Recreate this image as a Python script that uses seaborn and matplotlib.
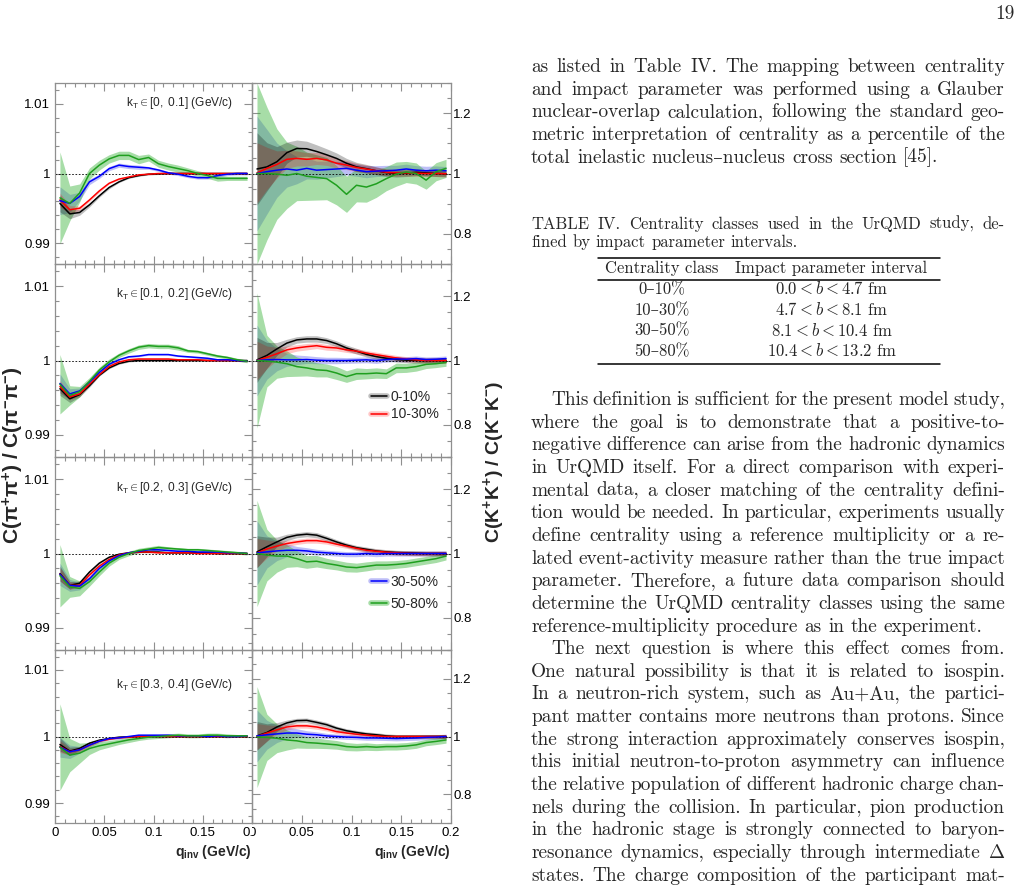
import matplotlib
matplotlib.use("Agg")
import pandas as pd
import matplotlib.pyplot as plt
import seaborn as sns
from matplotlib.lines import Line2D
from matplotlib.ticker import FixedLocator, MultipleLocator
from matplotlib.transforms import Bbox, TransformedBbox

# q_inv bin centres (GeV/c)
q_inv = [0.005, 0.015, 0.025, 0.035, 0.045, 0.055, 0.065, 0.075, 0.085, 0.095,
         0.105, 0.115, 0.125, 0.135, 0.145, 0.155, 0.165, 0.175, 0.185, 0.195]

centralities = ["0-10%", "10-30%", "30-50%", "50-80%"]
kt_bins = [r"[0,\ 0.1]", r"[0.1,\ 0.2]", r"[0.2,\ 0.3]", r"[0.3,\ 0.4]"]

# C(pi+pi+)/C(pi-pi-)
pi_kt1_c0010 = [0.9957, 0.9942, 0.9944, 0.9955, 0.9968, 0.9980, 0.9988, 0.9994, 0.9997, 0.9999,
                0.99995, 1.0000, 1.0000, 1.0000, 1.0000, 1.0000, 1.0000, 1.0000, 1.0000, 1.0000]
pi_kt1_c1030 = [0.9962, 0.9948, 0.9950, 0.9962, 0.9975, 0.9986, 0.9992, 0.9995, 0.9998, 0.9999,
                1.0000, 1.0000, 1.0000, 1.0000, 1.0000, 1.0000, 1.0000, 1.0000, 1.0000, 1.0000]
pi_kt1_c3050 = [0.9961, 0.9957, 0.9967, 0.9988, 0.9996, 1.0007, 1.0012, 1.0010, 1.0009, 1.0008,
                1.0005, 1.0001, 0.9999, 0.9996, 0.9994, 0.9994, 0.9997, 0.9999, 1.0000, 1.0000]
pi_kt1_c5080 = [0.9965, 0.9957, 0.9972, 1.0000, 1.0012, 1.0021, 1.0026, 1.0026, 1.0020, 1.0023,
                1.0014, 1.0010, 1.0007, 1.0004, 1.0000, 0.9997, 0.9993, 0.9993, 0.9993, 0.9993]

pi_kt2_c0010 = [0.9962, 0.99485, 0.9954, 0.9966, 0.9980, 0.9990, 0.9996, 0.9999, 1.0000, 1.0000,
                1.0000, 1.0000, 1.0000, 1.0000, 1.0000, 1.0000, 1.0000, 1.0000, 1.0000, 1.0000]
pi_kt2_c1030 = [0.9965, 0.9951, 0.9955, 0.9968, 0.9981, 0.9992, 0.9998, 1.0001, 1.0002, 1.0002,
                1.0002, 1.0002, 1.0001, 1.0001, 1.0001, 1.0000, 1.0000, 1.0000, 1.0000, 0.9999]
pi_kt2_c3050 = [0.9969, 0.9955, 0.9959, 0.9971, 0.9984, 0.9995, 1.0001, 1.0005, 1.0006, 1.0008,
                1.0008, 1.0008, 1.0006, 1.0005, 1.0004, 1.0003, 1.0001, 1.0001, 1.0000, 0.9999]
pi_kt2_c5080 = [0.9968, 0.9953, 0.9958, 0.9972, 0.9987, 0.9998, 1.0007, 1.0013, 1.0018, 1.0020,
                1.0019, 1.0019, 1.0017, 1.0013, 1.0012, 1.0009, 1.0006, 1.0004, 1.0001, 0.9999]

pi_kt3_c0010 = [0.9973, 0.9957, 0.9960, 0.9975, 0.9987, 0.9995, 0.9999, 1.0001, 1.0002, 1.0002,
                1.0002, 1.0001, 1.0001, 1.0001, 1.0001, 1.0001, 1.0000, 1.0000, 1.0000, 1.0000]
pi_kt3_c1030 = [0.9972, 0.9957, 0.9957, 0.9971, 0.9983, 0.9992, 0.9998, 1.0001, 1.0002, 1.0002,
                1.0001, 1.0001, 1.0001, 1.0001, 1.0000, 1.0000, 1.0000, 1.0000, 1.0000, 1.0000]
pi_kt3_c3050 = [0.9972, 0.9957, 0.9956, 0.9966, 0.9980, 0.9990, 0.9997, 1.0001, 1.0003, 1.0005,
                1.0005, 1.0004, 1.0003, 1.0003, 1.0002, 1.0002, 1.0002, 1.0001, 1.0001, 1.0000]
pi_kt3_c5080 = [0.9970, 0.9955, 0.9953, 0.9962, 0.9975, 0.9987, 0.9995, 1.0000, 1.0004, 1.0006,
                1.0008, 1.0007, 1.0006, 1.0005, 1.0005, 1.0004, 1.0003, 1.0002, 1.0001, 1.0000]

pi_kt4_c0010 = [0.9988, 0.9978, 0.9982, 0.9990, 0.99945, 0.9997, 0.9999, 0.99995, 1.0000, 1.0000,
                1.0000, 1.0000, 1.0000, 1.0000, 1.0000, 1.0000, 1.0000, 1.0000, 1.0000, 1.0000]
pi_kt4_c1030 = [0.9985, 0.9977, 0.9980, 0.9987, 0.9993, 0.9996, 0.9998, 0.9999, 1.0000, 1.0000,
                1.0000, 1.0000, 1.0000, 1.0000, 1.0000, 1.0000, 1.0000, 1.0000, 1.0000, 1.0000]
pi_kt4_c3050 = [0.9984, 0.9977, 0.9980, 0.9987, 0.9993, 0.9997, 0.9998, 1.0000, 1.0002, 1.0002,
                1.0002, 1.0002, 1.0001, 1.0001, 1.0001, 1.0000, 1.0001, 1.0000, 1.0000, 1.0001]
pi_kt4_c5080 = [0.9984, 0.9972, 0.9975, 0.9982, 0.9986, 0.9989, 0.9992, 0.9995, 0.9997, 0.9999,
                1.0000, 1.0001, 1.0002, 1.0001, 1.0001, 1.0002, 1.0002, 1.0001, 1.0001, 1.0001]

# half widths of the pion bands
pi_kt1_e0010 = [0.0012, 0.0007, 0.0004, 0.0003, 0.0002, 0.0002, 0.0001, 0.0001, 0.0001, 0.0001,
                0.0001, 0.0001, 0.0001, 0.0001, 0.0001, 0.0001, 0.0001, 0.0001, 0.0001, 0.0001]
pi_kt1_e1030 = [0.0010, 0.0006, 0.0003, 0.0002, 0.0002, 0.0001, 0.0001, 0.0001, 0.0001, 0.0001,
                0.0001, 0.0001, 0.0001, 0.0001, 0.0001, 0.0001, 0.0001, 0.0001, 0.0001, 0.0001]
pi_kt1_e3050 = [0.0020, 0.0013, 0.0006, 0.0004, 0.0003, 0.0003, 0.0003, 0.0003, 0.0003, 0.0002,
                0.0002, 0.0002, 0.0002, 0.0002, 0.0002, 0.0002, 0.0002, 0.0002, 0.0002, 0.0002]
pi_kt1_e5080 = [0.0066, 0.0025, 0.0013, 0.0008, 0.0007, 0.0006, 0.0006, 0.0006, 0.0006, 0.0005,
                0.0005, 0.0005, 0.0005, 0.0004, 0.0004, 0.0004, 0.0004, 0.0003, 0.0003, 0.0003]

pi_kt2_e0010 = [0.0009, 0.0005, 0.0003, 0.0002, 0.0001, 0.0001, 0.0001, 0.0001, 0.0001, 0.0001,
                0.0001, 0.0001, 0.0001, 0.0001, 0.0001, 0.0001, 0.0001, 0.0001, 0.0001, 0.0001]
pi_kt2_e1030 = [0.0008, 0.0004, 0.0003, 0.0002, 0.0001, 0.0001, 0.0001, 0.0001, 0.0001, 0.0001,
                0.0001, 0.0001, 0.0001, 0.0001, 0.0001, 0.0001, 0.0001, 0.0001, 0.0001, 0.0001]
pi_kt2_e3050 = [0.0013, 0.0007, 0.0004, 0.0003, 0.0002, 0.0002, 0.0001, 0.0001, 0.0001, 0.0001,
                0.0001, 0.0001, 0.0001, 0.0001, 0.0001, 0.0001, 0.0001, 0.0001, 0.0001, 0.0001]
pi_kt2_e5080 = [0.0040, 0.0013, 0.0007, 0.0005, 0.0004, 0.0004, 0.0003, 0.0003, 0.0003, 0.0003,
                0.0003, 0.0003, 0.0003, 0.0002, 0.0002, 0.0002, 0.0002, 0.0002, 0.0002, 0.0002]

pi_kt3_e0010 = [0.0010, 0.0005, 0.0003, 0.0002, 0.0001, 0.0001, 0.0001, 0.0001, 0.0001, 0.0001,
                0.0001, 0.0001, 0.0001, 0.0001, 0.0001, 0.0001, 0.0001, 0.0001, 0.0001, 0.0001]
pi_kt3_e1030 = [0.0009, 0.0005, 0.0003, 0.0002, 0.0001, 0.0001, 0.0001, 0.0001, 0.0001, 0.0001,
                0.0001, 0.0001, 0.0001, 0.0001, 0.0001, 0.0001, 0.0001, 0.0001, 0.0001, 0.0001]
pi_kt3_e3050 = [0.0015, 0.0008, 0.0005, 0.0003, 0.0002, 0.0002, 0.0002, 0.0001, 0.0001, 0.0001,
                0.0001, 0.0001, 0.0001, 0.0001, 0.0001, 0.0001, 0.0001, 0.0001, 0.0001, 0.0001]
pi_kt3_e5080 = [0.0042, 0.0014, 0.0010, 0.0006, 0.0005, 0.0004, 0.0003, 0.0003, 0.0003, 0.0003,
                0.0003, 0.0002, 0.0002, 0.0002, 0.0002, 0.0002, 0.0002, 0.0002, 0.0002, 0.0002]

pi_kt4_e0010 = [0.0010, 0.0006, 0.0003, 0.0002, 0.0001, 0.0001, 0.0001, 0.0001, 0.0001, 0.0001,
                0.0001, 0.0001, 0.0001, 0.0001, 0.0001, 0.0001, 0.0001, 0.0001, 0.0001, 0.0001]
pi_kt4_e1030 = [0.0009, 0.0005, 0.0003, 0.0002, 0.0001, 0.0001, 0.0001, 0.0001, 0.0001, 0.0001,
                0.0001, 0.0001, 0.0001, 0.0001, 0.0001, 0.0001, 0.0001, 0.0001, 0.0001, 0.0001]
pi_kt4_e3050 = [0.0015, 0.0010, 0.0005, 0.0003, 0.0002, 0.0002, 0.0002, 0.0001, 0.0001, 0.0001,
                0.0001, 0.0001, 0.0001, 0.0001, 0.0001, 0.0001, 0.0001, 0.0001, 0.0001, 0.0001]
pi_kt4_e5080 = [0.0065, 0.0025, 0.0015, 0.0009, 0.0006, 0.0005, 0.0004, 0.0004, 0.0003, 0.0003,
                0.0003, 0.0003, 0.0003, 0.0003, 0.0003, 0.0003, 0.0003, 0.0003, 0.0002, 0.0002]

# C(K+K+)/C(K-K-)
k_kt1_c0010 = [1.015, 1.022, 1.039, 1.069, 1.083, 1.082, 1.073, 1.062, 1.050, 1.034,
               1.022, 1.016, 1.009, 1.003, 1.000, 1.001, 1.004, 1.002, 1.000, 0.999]
k_kt1_c1030 = [1.002, 1.017, 1.030, 1.047, 1.050, 1.047, 1.050, 1.045, 1.034, 1.028,
               1.020, 1.015, 1.009, 1.004, 1.002, 1.002, 1.001, 1.000, 1.000, 0.999]
k_kt1_c3050 = [1.000, 1.006, 1.011, 1.015, 1.011, 1.017, 1.011, 1.013, 1.015, 1.017,
               1.011, 1.006, 1.008, 1.009, 1.011, 1.015, 1.011, 1.009, 1.011, 1.009]
k_kt1_c5080 = [1.000, 1.000, 0.998, 0.994, 1.000, 0.991, 0.987, 0.983, 0.961, 0.931,
               0.961, 0.955, 0.966, 0.983, 0.998, 1.005, 1.000, 0.978, 1.006, 1.017]

k_kt2_c0010 = [1.002, 1.016, 1.036, 1.054, 1.064, 1.067, 1.067, 1.062, 1.052, 1.039,
               1.029, 1.019, 1.012, 1.007, 1.003, 1.001, 1.000, 1.000, 1.000, 1.000]
k_kt2_c1030 = [1.000, 1.010, 1.021, 1.033, 1.039, 1.043, 1.046, 1.041, 1.039, 1.033,
               1.029, 1.023, 1.018, 1.013, 1.008, 1.004, 1.002, 1.000, 1.000, 1.000]
k_kt2_c3050 = [1.000, 1.002, 1.003, 1.002, 1.002, 1.003, 1.001, 1.000, 1.000, 1.000,
               1.001, 1.002, 1.000, 1.003, 1.005, 1.004, 1.006, 1.003, 1.004, 1.006]
k_kt2_c5080 = [1.000, 0.998, 0.995, 0.990, 0.981, 0.977, 0.971, 0.969, 0.961, 0.950,
               0.959, 0.959, 0.961, 0.959, 0.977, 0.977, 0.981, 0.988, 0.990, 0.994]

k_kt3_c0010 = [1.005, 1.021, 1.036, 1.050, 1.057, 1.060, 1.057, 1.047, 1.036, 1.026,
               1.018, 1.013, 1.008, 1.005, 1.003, 1.002, 1.001, 1.000, 1.000, 1.000]
k_kt3_c1030 = [1.002, 1.014, 1.023, 1.031, 1.036, 1.040, 1.040, 1.036, 1.029, 1.023,
               1.016, 1.010, 1.007, 1.004, 1.002, 1.001, 1.000, 1.000, 1.000, 1.000]
k_kt3_c3050 = [1.002, 1.005, 1.008, 1.010, 1.010, 1.008, 1.004, 1.002, 1.000, 0.998,
               0.998, 1.000, 0.998, 1.000, 1.000, 1.000, 1.000, 1.000, 1.000, 1.000]
k_kt3_c5080 = [1.000, 0.995, 0.992, 0.992, 0.984, 0.974, 0.976, 0.969, 0.964, 0.958,
               0.956, 0.960, 0.964, 0.964, 0.966, 0.969, 0.974, 0.979, 0.984, 0.992]

k_kt4_c0010 = [1.002, 1.014, 1.033, 1.047, 1.055, 1.056, 1.049, 1.041, 1.029, 1.020,
               1.014, 1.009, 1.006, 1.002, 1.000, 1.000, 1.000, 1.000, 1.000, 1.000]
k_kt4_c1030 = [1.000, 1.012, 1.023, 1.033, 1.037, 1.037, 1.033, 1.026, 1.017, 1.012,
               1.008, 1.005, 1.002, 1.000, 1.000, 1.000, 1.000, 1.000, 1.000, 1.000]
k_kt4_c3050 = [1.002, 1.006, 1.009, 1.012, 1.012, 1.008, 1.006, 1.002, 1.000, 0.998,
               0.997, 0.995, 0.995, 0.994, 0.993, 0.994, 0.995, 0.997, 0.998, 1.000]
k_kt4_c5080 = [0.998, 0.997, 0.994, 0.988, 0.985, 0.979, 0.977, 0.974, 0.971, 0.965,
               0.963, 0.965, 0.963, 0.965, 0.965, 0.967, 0.971, 0.979, 0.983, 0.988]

# half widths of the kaon bands
k_kt1_e0010 = [0.120, 0.080, 0.050, 0.035, 0.028, 0.025, 0.022, 0.020, 0.018, 0.016,
               0.015, 0.014, 0.013, 0.012, 0.012, 0.011, 0.011, 0.010, 0.010, 0.010]
k_kt1_e1030 = [0.100, 0.070, 0.045, 0.030, 0.025, 0.022, 0.020, 0.018, 0.016, 0.015,
               0.014, 0.013, 0.012, 0.011, 0.011, 0.010, 0.010, 0.010, 0.010, 0.010]
k_kt1_e3050 = [0.190, 0.140, 0.090, 0.060, 0.045, 0.035, 0.030, 0.028, 0.025, 0.022,
               0.020, 0.020, 0.018, 0.018, 0.016, 0.016, 0.015, 0.015, 0.014, 0.014]
k_kt1_e5080 = [0.300, 0.220, 0.150, 0.110, 0.090, 0.080, 0.075, 0.070, 0.065, 0.060,
               0.055, 0.050, 0.045, 0.040, 0.040, 0.035, 0.035, 0.030, 0.030, 0.030]

k_kt2_e0010 = [0.070, 0.040, 0.020, 0.012, 0.010, 0.010, 0.010, 0.009, 0.009, 0.009,
               0.009, 0.008, 0.008, 0.008, 0.008, 0.008, 0.008, 0.008, 0.008, 0.008]
k_kt2_e1030 = [0.060, 0.035, 0.020, 0.012, 0.010, 0.010, 0.009, 0.009, 0.009, 0.008,
               0.008, 0.008, 0.008, 0.008, 0.008, 0.008, 0.008, 0.008, 0.008, 0.008]
k_kt2_e3050 = [0.110, 0.060, 0.035, 0.020, 0.015, 0.012, 0.011, 0.010, 0.010, 0.009,
               0.009, 0.009, 0.009, 0.008, 0.008, 0.008, 0.008, 0.008, 0.008, 0.008]
k_kt2_e5080 = [0.210, 0.080, 0.050, 0.040, 0.030, 0.025, 0.022, 0.020, 0.020, 0.018,
               0.018, 0.016, 0.016, 0.015, 0.015, 0.014, 0.014, 0.013, 0.012, 0.012]

k_kt3_e0010 = [0.050, 0.030, 0.015, 0.010, 0.008, 0.008, 0.008, 0.008, 0.007, 0.007,
               0.007, 0.007, 0.007, 0.007, 0.007, 0.007, 0.007, 0.007, 0.007, 0.007]
k_kt3_e1030 = [0.045, 0.028, 0.015, 0.010, 0.008, 0.008, 0.008, 0.007, 0.007, 0.007,
               0.007, 0.007, 0.007, 0.007, 0.007, 0.007, 0.007, 0.007, 0.007, 0.007]
k_kt3_e3050 = [0.100, 0.050, 0.030, 0.020, 0.012, 0.010, 0.009, 0.008, 0.008, 0.008,
               0.008, 0.008, 0.008, 0.008, 0.008, 0.008, 0.008, 0.008, 0.008, 0.008]
k_kt3_e5080 = [0.165, 0.080, 0.050, 0.035, 0.025, 0.020, 0.018, 0.016, 0.015, 0.015,
               0.014, 0.014, 0.013, 0.013, 0.012, 0.012, 0.012, 0.012, 0.012, 0.012]

k_kt4_e0010 = [0.050, 0.030, 0.015, 0.010, 0.008, 0.008, 0.008, 0.008, 0.007, 0.007,
               0.007, 0.007, 0.007, 0.007, 0.007, 0.007, 0.007, 0.007, 0.007, 0.007]
k_kt4_e1030 = [0.045, 0.028, 0.015, 0.010, 0.008, 0.008, 0.008, 0.007, 0.007, 0.007,
               0.007, 0.007, 0.007, 0.007, 0.007, 0.007, 0.007, 0.007, 0.007, 0.007]
k_kt4_e3050 = [0.090, 0.050, 0.030, 0.020, 0.015, 0.012, 0.010, 0.009, 0.008, 0.008,
               0.008, 0.008, 0.008, 0.008, 0.008, 0.008, 0.008, 0.008, 0.008, 0.008]
k_kt4_e5080 = [0.175, 0.080, 0.050, 0.035, 0.025, 0.020, 0.018, 0.016, 0.015, 0.014,
               0.013, 0.013, 0.012, 0.012, 0.012, 0.012, 0.012, 0.011, 0.011, 0.011]

pi_ratio = [[pi_kt1_c0010, pi_kt1_c1030, pi_kt1_c3050, pi_kt1_c5080],
            [pi_kt2_c0010, pi_kt2_c1030, pi_kt2_c3050, pi_kt2_c5080],
            [pi_kt3_c0010, pi_kt3_c1030, pi_kt3_c3050, pi_kt3_c5080],
            [pi_kt4_c0010, pi_kt4_c1030, pi_kt4_c3050, pi_kt4_c5080]]
pi_error = [[pi_kt1_e0010, pi_kt1_e1030, pi_kt1_e3050, pi_kt1_e5080],
            [pi_kt2_e0010, pi_kt2_e1030, pi_kt2_e3050, pi_kt2_e5080],
            [pi_kt3_e0010, pi_kt3_e1030, pi_kt3_e3050, pi_kt3_e5080],
            [pi_kt4_e0010, pi_kt4_e1030, pi_kt4_e3050, pi_kt4_e5080]]
k_ratio = [[k_kt1_c0010, k_kt1_c1030, k_kt1_c3050, k_kt1_c5080],
           [k_kt2_c0010, k_kt2_c1030, k_kt2_c3050, k_kt2_c5080],
           [k_kt3_c0010, k_kt3_c1030, k_kt3_c3050, k_kt3_c5080],
           [k_kt4_c0010, k_kt4_c1030, k_kt4_c3050, k_kt4_c5080]]
k_error = [[k_kt1_e0010, k_kt1_e1030, k_kt1_e3050, k_kt1_e5080],
           [k_kt2_e0010, k_kt2_e1030, k_kt2_e3050, k_kt2_e5080],
           [k_kt3_e0010, k_kt3_e1030, k_kt3_e3050, k_kt3_e5080],
           [k_kt4_e0010, k_kt4_e1030, k_kt4_e3050, k_kt4_e5080]]

# page text next to the figure
para1 = ["as listed in Table IV. The mapping between centrality",
         "and impact parameter was performed using a Glauber",
         "nuclear-overlap calculation, following the standard geo-",
         "metric interpretation of centrality as a percentile of the",
         "total inelastic nucleus\u2013nucleus cross section [45]."]
caption = ["TABLE IV. Centrality classes used in the UrQMD study, de-",
           "fined by impact parameter intervals."]
table_head = ["Centrality class", "Impact parameter interval"]
table_class = ["0\u201310%", "10\u201330%", "30\u201350%", "50\u201380%"]
table_b = [r"$0.0 < b < 4.7$ fm", r"$4.7 < b < 8.1$ fm",
           r"$8.1 < b < 10.4$ fm", r"$10.4 < b < 13.2$ fm"]
para2 = ["This definition is sufficient for the present model study,",
         "where the goal is to demonstrate that a positive-to-",
         "negative difference can arise from the hadronic dynamics",
         "in UrQMD itself. For a direct comparison with experi-",
         "mental data, a closer matching of the centrality defini-",
         "tion would be needed. In particular, experiments usually",
         "define centrality using a reference multiplicity or a re-",
         "lated event-activity measure rather than the true impact",
         "parameter. Therefore, a future data comparison should",
         "determine the UrQMD centrality classes using the same",
         "reference-multiplicity procedure as in the experiment."]
para3 = ["The next question is where this effect comes from.",
         "One natural possibility is that it is related to isospin.",
         "In a neutron-rich system, such as Au+Au, the partici-",
         "pant matter contains more neutrons than protons. Since",
         "the strong interaction approximately conserves isospin,",
         "this initial neutron-to-proton asymmetry can influence",
         "the relative population of different hadronic charge chan-",
         "nels during the collision. In particular, pion production",
         "in the hadronic stage is strongly connected to baryon-",
         r"resonance dynamics, especially through intermediate $\Delta$",
         "states. The charge composition of the participant mat-"]

# long table for seaborn
rows = []
for species, ratios, errors in (("pi", pi_ratio, pi_error), ("K", k_ratio, k_error)):
    for k in range(4):
        for c, cent in enumerate(centralities):
            for x, r, e in zip(q_inv, ratios[k][c], errors[k][c]):
                rows.append((species, k, cent, x, r, e))
df = pd.DataFrame(rows, columns=["species", "kt", "cent", "q", "ratio", "err"])

line_colors = {"0-10%": "#000000", "10-30%": "#ff0000", "30-50%": "#0000ff", "50-80%": "#1f9f1f"}
band_colors = {"0-10%": "#000000", "10-30%": "#ff0000", "30-50%": "#2828e6", "50-80%": "#3cb43c"}
band_alpha = {"0-10%": 0.25, "10-30%": 0.22, "30-50%": 0.3, "50-80%": 0.45}
band_order = ["30-50%", "50-80%", "10-30%", "0-10%"]
FRAME = "#8f8f8f"

sns.set_style("ticks")
plt.rcParams["font.family"] = ["Liberation Sans", "DejaVu Sans"]
plt.rcParams["mathtext.fontset"] = "custom"
plt.rcParams["mathtext.rm"] = "Liberation Sans"
plt.rcParams["mathtext.it"] = "Liberation Sans:italic"
plt.rcParams["mathtext.bf"] = "Liberation Sans:bold"

W, H = 1028, 891
fig = plt.figure(figsize=(W / 100, H / 100), dpi=100)
fig.patch.set_facecolor("white")

col_x = [55, 252, 451]
row_y = [83, 264, 457, 650, 823]
kt_text_y = [0.89, 0.845, 0.84, 0.80]


def add_px_axes(x0, x1, y0, y1):
    return fig.add_axes([x0 / W, 1 - y1 / H, (x1 - x0) / W, (y1 - y0) / H])


axes = {}
for k in range(4):
    for col, species in enumerate(("pi", "K")):
        ax = add_px_axes(col_x[col], col_x[col + 1], row_y[k], row_y[k + 1])
        axes[(k, col)] = ax
        sub = df[(df.species == species) & (df.kt == k)]
        for cent in band_order:
            s = sub[sub.cent == cent]
            ax.fill_between(s.q, s.ratio - s.err, s.ratio + s.err, color=band_colors[cent],
                            alpha=band_alpha[cent], lw=0, zorder=1)
        ax.axhline(1, color="black", lw=0.6, ls=(0, (2, 2)), zorder=1.5)
        sns.lineplot(data=sub, x="q", y="ratio", hue="cent", hue_order=centralities,
                     palette=line_colors, estimator=None, sort=False, legend=False,
                     linewidth=1.1, ax=ax, zorder=3)
        ax.set_xlabel("")
        ax.set_ylabel("")
        ax.set_xlim(0, 0.2)
        ax.xaxis.set_major_locator(FixedLocator([0, 0.05, 0.1, 0.15, 0.2]))
        ax.xaxis.set_minor_locator(MultipleLocator(0.01))
        if species == "pi":
            ax.set_ylim(0.987, 1.013)
            ax.yaxis.set_major_locator(FixedLocator([0.99, 1.0, 1.01]))
            ax.set_yticklabels(["0.99", "1", "1.01"])
            ax.yaxis.set_minor_locator(MultipleLocator(0.002))
            ax.text(0.905, kt_text_y[k], r"k$_{\rm T} \in " + kt_bins[k] + "$ (GeV/c)",
                    transform=ax.transAxes, ha="right", va="center", fontsize=8.6)
        else:
            ax.set_ylim(0.7, 1.3)
            ax.yaxis.set_major_locator(FixedLocator([0.8, 1.0, 1.2]))
            ax.set_yticklabels(["0.8", "1", "1.2"])
            ax.yaxis.set_minor_locator(MultipleLocator(0.05))
        ax.tick_params(which="both", direction="in", top=True, bottom=True, left=True, right=True,
                       color=FRAME, width=0.8, labelsize=9.5, labelcolor="black")
        ax.tick_params(which="major", length=6)
        ax.tick_params(which="minor", length=3)
        ax.tick_params(axis="y", labelleft=(col == 0), labelright=(col == 1),
                       pad=3.5 if col == 0 else 1.5)
        ax.tick_params(axis="x", labelbottom=(k == 3), pad=3)
        for sp in ax.spines.values():
            sp.set_color(FRAME)
            sp.set_linewidth(0.9)
        ax.set_facecolor("none")
        if k == 3:
            ax.set_xticklabels(["0", "0.05", "0.1", "0.15", "0.2"])
            # the two pads cut each other's end labels, as in the original
            lo, hi = (0, col_x[1] / W) if col == 0 else (col_x[1] / W, 1)
            clip = TransformedBbox(Bbox.from_extents(lo, 0, hi, 1), fig.transFigure)
            for lab in ax.get_xticklabels():
                lab.set_clip_on(True)
                lab.set_clip_box(clip)
            ax.set_xlabel(r"$\mathbf{q_{inv}}$ (GeV/c)", loc="right", fontsize=10,
                          fontweight="bold", labelpad=3)

# legends
for (k, names, anchor, spacing) in ((1, centralities[:2], (0.596, 0.267), 0.28),
                                    (2, centralities[2:], (0.596, 0.296), 0.62)):
    handles = [(Line2D([], [], color=band_colors[n], alpha=band_alpha[n], lw=4),
                Line2D([], [], color=line_colors[n], lw=1.1)) for n in names]
    axes[(k, 1)].legend(handles, names, loc="center left", bbox_to_anchor=anchor,
                        frameon=False, fontsize=10, handlelength=1.15, handletextpad=0.3,
                        labelspacing=spacing, borderpad=0, borderaxespad=0)

fig.text(13 / W, 1 - 455 / H, r"$\mathbf{C(\pi^{+}\pi^{+})\ /\ C(\pi^{-}\pi^{-})}$",
         rotation=90, ha="center", va="center", fontsize=15)
fig.text(494 / W, 1 - 462 / H, r"$\mathbf{C(K^{+}K^{+})\ /\ C(K^{-}K^{-})}$",
         rotation=90, ha="center", va="center", fontsize=14)

# page text, justified like the LaTeX column
SERIF = ["cmr10", "DejaVu Serif"]
BODY = 13.9
SMALL = 12
renderer = fig.canvas.get_renderer()


def page_line(text, y, size=BODY, x0=531, x1=1005, indent=0, justify=True):
    words = text.split(" ")
    arts = [fig.text(0, 1 - y / H, w, fontsize=size, family=SERIF, math_fontfamily="cm",
                     va="baseline", ha="left") for w in words]
    widths = [a.get_window_extent(renderer).width for a in arts]
    if justify and len(words) > 1:
        gap = (x1 - x0 - indent - sum(widths)) / (len(words) - 1)
    else:
        gap = size * 100 / 72 * 0.333
    x = x0 + indent
    for a, w in zip(arts, widths):
        a.set_x(x / W)
        x += w + gap


def paragraph(lines, y_first, step=22.65, indent=0, last_justified=False, size=BODY):
    for i, line in enumerate(lines):
        last = i == len(lines) - 1
        page_line(line, y_first + i * step, size=size, indent=indent if i == 0 else 0,
                  justify=(not last) or last_justified)


fig.text(1015 / W, 1 - 19 / H, "19", fontsize=BODY, family=SERIF, ha="right", va="baseline")
paragraph(para1, 72)
paragraph(caption, 229, step=18, size=SMALL)

for y in (258, 280, 364):
    fig.add_artist(Line2D([598 / W, 940 / W], [1 - y / H] * 2, color="black", lw=1.1,
                          transform=fig.transFigure))
fig.text(662 / W, 1 - 273 / H, table_head[0], fontsize=SMALL, family=SERIF, ha="center", va="baseline")
fig.text(831 / W, 1 - 273 / H, table_head[1], fontsize=SMALL, family=SERIF, ha="center", va="baseline")
for i, (c, b) in enumerate(zip(table_class, table_b)):
    y = 294.5 + i * 20.5
    fig.text(662 / W, 1 - y / H, c, fontsize=SMALL, family=SERIF, ha="center", va="baseline")
    fig.text(832 / W, 1 - y / H, b, fontsize=SMALL, family=SERIF, math_fontfamily="cm",
             ha="center", va="baseline")

paragraph(para2, 405, indent=20)
paragraph(para3, 405 + 11 * 22.65, indent=20, last_justified=True)

fig.savefig("out.png", dpi=100)
